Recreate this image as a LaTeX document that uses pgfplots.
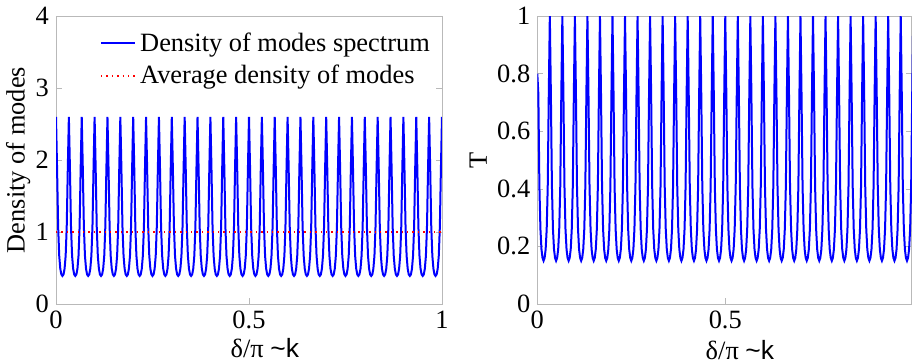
\documentclass[border=0pt]{standalone}
\usepackage{pgfplots}
\usepackage{pgfplotstable}
\usepackage{fontspec}
\pgfplotsset{compat=1.18}
\setmainfont{Liberation Serif}
\newfontfamily\sansf{Liberation Sans}
\newcommand{\fs}{\fontsize{13.2}{15.8}\selectfont}

\pgfplotstableread{
k rho T
0 2.60 0.80
1 1.88 0.73
2 1.07 0.41
3 0.67 0.26
4 0.49 0.19
5 0.41 0.16
6 0.39 0.15
7 0.41 0.16
8 0.49 0.19
9 0.67 0.26
10 1.07 0.41
11 1.88 0.73
12 2.60 1.00
13 1.88 0.73
14 1.07 0.41
15 0.67 0.26
16 0.49 0.19
17 0.41 0.16
18 0.39 0.15
19 0.41 0.16
20 0.49 0.19
21 0.67 0.26
22 1.07 0.41
23 1.88 0.73
24 2.60 1.00
25 1.88 0.73
26 1.07 0.41
27 0.67 0.26
28 0.49 0.19
29 0.41 0.16
30 0.39 0.15
31 0.41 0.16
32 0.49 0.19
33 0.67 0.26
34 1.07 0.41
35 1.88 0.73
36 2.60 1.00
37 1.88 0.73
38 1.07 0.41
39 0.67 0.26
40 0.49 0.19
41 0.41 0.16
42 0.39 0.15
43 0.41 0.16
44 0.49 0.19
45 0.67 0.26
46 1.07 0.41
47 1.88 0.73
48 2.60 1.00
49 1.88 0.73
50 1.07 0.41
51 0.67 0.26
52 0.49 0.19
53 0.41 0.16
54 0.39 0.15
55 0.41 0.16
56 0.49 0.19
57 0.67 0.26
58 1.07 0.41
59 1.88 0.73
60 2.60 1.00
61 1.88 0.73
62 1.07 0.41
63 0.67 0.26
64 0.49 0.19
65 0.41 0.16
66 0.39 0.15
67 0.41 0.16
68 0.49 0.19
69 0.67 0.26
70 1.07 0.41
71 1.88 0.73
72 2.60 1.00
73 1.88 0.73
74 1.07 0.41
75 0.67 0.26
76 0.49 0.19
77 0.41 0.16
78 0.39 0.15
79 0.41 0.16
80 0.49 0.19
81 0.67 0.26
82 1.07 0.41
83 1.88 0.73
84 2.60 1.00
85 1.88 0.73
86 1.07 0.41
87 0.67 0.26
88 0.49 0.19
89 0.41 0.16
90 0.39 0.15
91 0.41 0.16
92 0.49 0.19
93 0.67 0.26
94 1.07 0.41
95 1.88 0.73
96 2.60 1.00
97 1.88 0.73
98 1.07 0.41
99 0.67 0.26
100 0.49 0.19
101 0.41 0.16
102 0.39 0.15
103 0.41 0.16
104 0.49 0.19
105 0.67 0.26
106 1.07 0.41
107 1.88 0.73
108 2.60 1.00
109 1.88 0.73
110 1.07 0.41
111 0.67 0.26
112 0.49 0.19
113 0.41 0.16
114 0.39 0.15
115 0.41 0.16
116 0.49 0.19
117 0.67 0.26
118 1.07 0.41
119 1.88 0.73
120 2.60 1.00
121 1.88 0.73
122 1.07 0.41
123 0.67 0.26
124 0.49 0.19
125 0.41 0.16
126 0.39 0.15
127 0.41 0.16
128 0.49 0.19
129 0.67 0.26
130 1.07 0.41
131 1.88 0.73
132 2.60 1.00
133 1.88 0.73
134 1.07 0.41
135 0.67 0.26
136 0.49 0.19
137 0.41 0.16
138 0.39 0.15
139 0.41 0.16
140 0.49 0.19
141 0.67 0.26
142 1.07 0.41
143 1.88 0.73
144 2.60 1.00
145 1.88 0.73
146 1.07 0.41
147 0.67 0.26
148 0.49 0.19
149 0.41 0.16
150 0.39 0.15
151 0.41 0.16
152 0.49 0.19
153 0.67 0.26
154 1.07 0.41
155 1.88 0.73
156 2.60 1.00
157 1.88 0.73
158 1.07 0.41
159 0.67 0.26
160 0.49 0.19
161 0.41 0.16
162 0.39 0.15
163 0.41 0.16
164 0.49 0.19
165 0.67 0.26
166 1.07 0.41
167 1.88 0.73
168 2.60 1.00
169 1.88 0.73
170 1.07 0.41
171 0.67 0.26
172 0.49 0.19
173 0.41 0.16
174 0.39 0.15
175 0.41 0.16
176 0.49 0.19
177 0.67 0.26
178 1.07 0.41
179 1.88 0.73
180 2.60 1.00
181 1.88 0.73
182 1.07 0.41
183 0.67 0.26
184 0.49 0.19
185 0.41 0.16
186 0.39 0.15
187 0.41 0.16
188 0.49 0.19
189 0.67 0.26
190 1.07 0.41
191 1.88 0.73
192 2.60 1.00
193 1.88 0.73
194 1.07 0.41
195 0.67 0.26
196 0.49 0.19
197 0.41 0.16
198 0.39 0.15
199 0.41 0.16
200 0.49 0.19
201 0.67 0.26
202 1.07 0.41
203 1.88 0.73
204 2.60 1.00
205 1.88 0.73
206 1.07 0.41
207 0.67 0.26
208 0.49 0.19
209 0.41 0.16
210 0.39 0.15
211 0.41 0.16
212 0.49 0.19
213 0.67 0.26
214 1.07 0.41
215 1.88 0.73
216 2.60 1.00
217 1.88 0.73
218 1.07 0.41
219 0.67 0.26
220 0.49 0.19
221 0.41 0.16
222 0.39 0.15
223 0.41 0.16
224 0.49 0.19
225 0.67 0.26
226 1.07 0.41
227 1.88 0.73
228 2.60 1.00
229 1.88 0.73
230 1.07 0.41
231 0.67 0.26
232 0.49 0.19
233 0.41 0.16
234 0.39 0.15
235 0.41 0.16
236 0.49 0.19
237 0.67 0.26
238 1.07 0.41
239 1.88 0.73
240 2.60 1.00
241 1.88 0.73
242 1.07 0.41
243 0.67 0.26
244 0.49 0.19
245 0.41 0.16
246 0.39 0.15
247 0.41 0.16
248 0.49 0.19
249 0.67 0.26
250 1.07 0.41
251 1.88 0.73
252 2.60 1.00
253 1.88 0.73
254 1.07 0.41
255 0.67 0.26
256 0.49 0.19
257 0.41 0.16
258 0.39 0.15
259 0.41 0.16
260 0.49 0.19
261 0.67 0.26
262 1.07 0.41
263 1.88 0.73
264 2.60 1.00
265 1.88 0.73
266 1.07 0.41
267 0.67 0.26
268 0.49 0.19
269 0.41 0.16
270 0.39 0.15
271 0.41 0.16
272 0.49 0.19
273 0.67 0.26
274 1.07 0.41
275 1.88 0.73
276 2.60 1.00
277 1.88 0.73
278 1.07 0.41
279 0.67 0.26
280 0.49 0.19
281 0.41 0.16
282 0.39 0.15
283 0.41 0.16
284 0.49 0.19
285 0.67 0.26
286 1.07 0.41
287 1.88 0.73
288 2.60 1.00
289 1.88 0.73
290 1.07 0.41
291 0.67 0.26
292 0.49 0.19
293 0.41 0.16
294 0.39 0.15
295 0.41 0.16
296 0.49 0.19
297 0.67 0.26
298 1.07 0.41
299 1.88 0.73
300 2.60 1.00
301 1.88 0.73
302 1.07 0.41
303 0.67 0.26
304 0.49 0.19
305 0.41 0.16
306 0.39 0.15
307 0.41 0.16
308 0.49 0.19
309 0.67 0.26
310 1.07 0.41
311 1.88 0.73
312 2.60 1.00
313 1.88 0.73
314 1.07 0.41
315 0.67 0.26
316 0.49 0.19
317 0.41 0.16
318 0.39 0.15
319 0.41 0.16
320 0.49 0.19
321 0.67 0.26
322 1.07 0.41
323 1.88 0.73
324 2.60 1.00
325 1.88 0.73
326 1.07 0.41
327 0.67 0.26
328 0.49 0.19
329 0.41 0.16
330 0.39 0.15
331 0.41 0.16
332 0.49 0.19
333 0.67 0.26
334 1.07 0.41
335 1.88 0.73
336 2.60 1.00
337 1.88 0.73
338 1.07 0.41
339 0.67 0.26
340 0.49 0.19
341 0.41 0.16
342 0.39 0.15
343 0.41 0.16
344 0.49 0.19
345 0.67 0.26
346 1.07 0.41
347 1.88 0.73
348 2.60 1.00
349 1.88 0.73
350 1.07 0.41
351 0.67 0.26
352 0.49 0.19
353 0.41 0.16
354 0.39 0.15
355 0.41 0.16
356 0.49 0.19
357 0.67 0.26
358 1.07 0.41
359 1.88 0.73
360 2.60 1.00
}\modes

\pgfplotsset{
  myaxis/.style={
    scale only axis,
    height=144pt,
    axis line style={gray!55},
    tick style={gray!55, major tick length=3pt},
    xtick pos=bottom,
    ytick pos=both,
    tick align=inside,
    /pgf/number format/assume math mode=true,
    tick label style={font=\fs, black},
    label style={font=\fs},
    xlabel={δ/π {\sansf\textasciitilde k}},
    clip=true,
  }
}

\begin{document}
\begin{tikzpicture}[x=1pt,y=1pt]
\useasboundingbox (0,0) rectangle (456,182);

\begin{axis}[myaxis,
  at={(28pt,30pt)}, anchor=south west,
  width=193pt,
  xmin=0, xmax=360, ymin=0, ymax=4,
  xtick={0,180,360}, xticklabels={0,0.5,1},
  ytick={0,1,2,3,4}, yticklabels={0,1,2,3,4},
  ylabel={Density of modes},
  ylabel style={at={(axis description cs:-0.098,0.5)}, anchor=center},
  xlabel style={at={(axis description cs:0.541,-0.153)}, anchor=center},
  legend style={at={(axis description cs:0.985,0.965)}, anchor=north east,
    draw=none, fill=none, font=\fs, legend cell align=left,
    row sep=1.5pt, inner sep=1pt},
]
\addplot[blue, line width=1pt] table[x=k, y=rho] {\modes};
\addlegendentry{Density of modes spectrum}
\addplot[red, dotted, line width=0.7pt] coordinates {(0,1) (360,1)};
\addlegendentry{Average density of modes}
\end{axis}

\begin{axis}[myaxis,
  at={(268.65pt,30pt)}, anchor=south west,
  width=187.25pt,
  xmin=0, xmax=358.6, ymin=0, ymax=1,
  xtick={0,180}, xticklabels={0,0.5},
  ytick={0,0.2,0.4,0.6,0.8,1}, yticklabels={0,0.2,0.4,0.6,0.8,1},
  ylabel={T},
  ylabel style={at={(axis description cs:-0.158,0.5)}, anchor=center},
  xlabel style={at={(axis description cs:0.541,-0.16)}, anchor=center},
]
\addplot[blue, line width=1pt] table[x=k, y=T] {\modes};
\end{axis}
\end{tikzpicture}
\end{document}
